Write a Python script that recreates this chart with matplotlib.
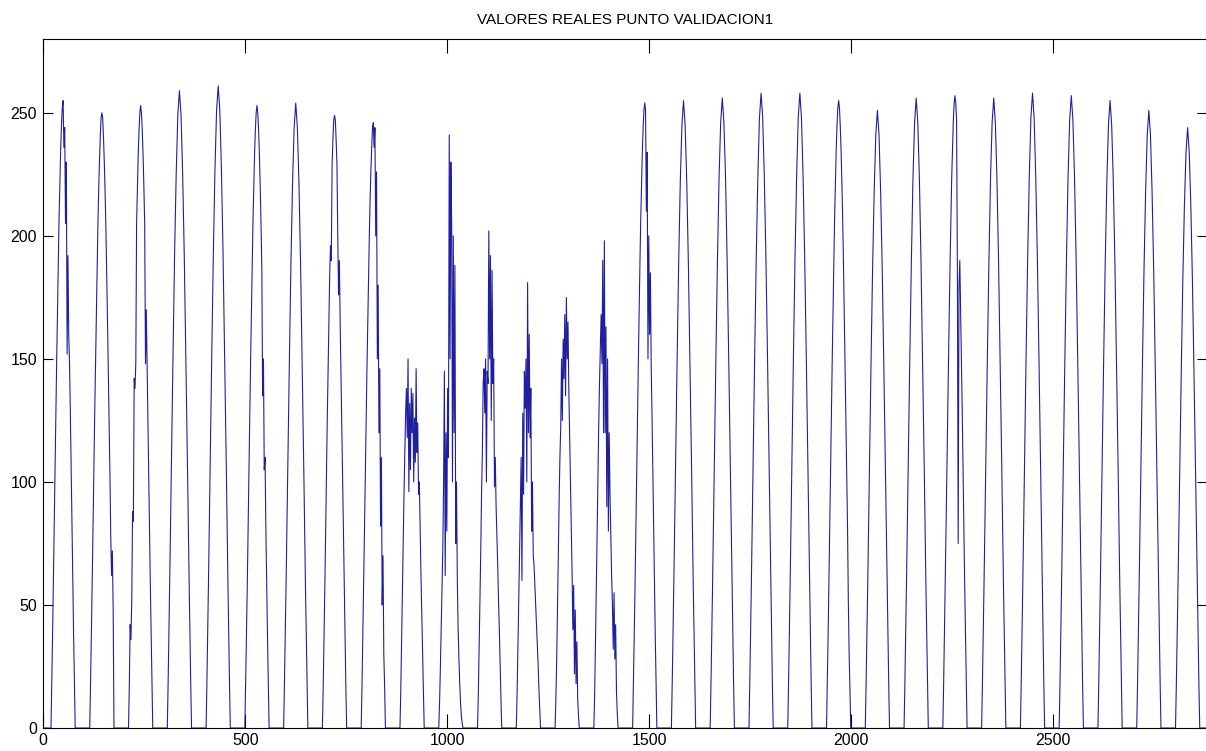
import matplotlib
matplotlib.use("Agg")
import matplotlib.pyplot as plt
from matplotlib import font_manager

# muestras cada 15 min, 96 por dia, 30 dias; mediodia ~ muestra 49 del dia
muestras_dia = 96
mediodia = 49
n_dias = 30

# desplazamientos (en muestras) respecto al mediodia
t_hora = [-30, -28, -24, -20, -16, -12, -8, -4, 0, 4, 8, 12, 16, 20, 24, 28, 30]
t_media = [-30, -28, -26, -24, -22, -20, -18, -16, -14, -12, -10, -8, -6, -4, -2, 0,
           2, 4, 6, 8, 10, 12, 14, 16, 18, 20, 22, 24, 26, 28, 30]

# dias despejados (valores horarios)
dias = {
    3:  [0, 18, 60, 106, 150, 192, 225, 249, 259, 249, 225, 192, 150, 106, 60, 18, 0],
    4:  [0, 18, 60, 107, 151, 193, 227, 251, 261, 251, 227, 193, 151, 107, 60, 18, 0],
    6:  [0, 18, 58, 104, 147, 188, 221, 244, 254, 244, 221, 188, 147, 104, 58, 18, 0],
    16: [0, 18, 59, 105, 148, 189, 222, 245, 255, 245, 222, 189, 148, 105, 59, 18, 0],
    17: [0, 18, 59, 105, 149, 190, 224, 246, 256, 246, 224, 190, 149, 105, 59, 18, 0],
    18: [0, 18, 59, 106, 150, 191, 224, 248, 258, 248, 224, 191, 150, 106, 59, 18, 0],
    19: [0, 18, 59, 106, 150, 191, 224, 248, 258, 248, 224, 191, 150, 106, 59, 18, 0],
    21: [0, 18, 58, 103, 146, 186, 218, 241, 251, 241, 218, 186, 146, 103, 58, 18, 0],
    22: [0, 18, 59, 105, 148, 189, 223, 246, 256, 246, 223, 189, 148, 105, 59, 18, 0],
    24: [0, 18, 59, 105, 148, 189, 223, 246, 256, 246, 223, 189, 148, 105, 59, 18, 0],
    25: [0, 18, 59, 106, 150, 191, 224, 248, 258, 248, 224, 191, 150, 106, 59, 18, 0],
    26: [0, 18, 59, 105, 149, 190, 224, 247, 257, 247, 224, 190, 149, 105, 59, 18, 0],
    27: [0, 18, 59, 105, 148, 189, 222, 245, 255, 245, 222, 189, 148, 105, 59, 18, 0],
    28: [0, 18, 58, 103, 146, 186, 218, 241, 251, 241, 218, 186, 146, 103, 58, 18, 0],
    29: [0, 17, 56, 100, 142, 181, 212, 234, 244, 234, 212, 181, 142, 100, 56, 17, 0],
}

# dias con nubes (valores cada media hora)
dias.update({
    0:  [0, 18, 38, 59, 82, 105, 128, 148, 168, 189, 207, 222, 235, 245, 252, 255,
         236, 244, 205, 230, 152, 192, 160, 148, 128, 105, 82, 59, 38, 18, 0],
    1:  [0, 18, 38, 58, 80, 103, 125, 145, 165, 185, 203, 218, 230, 240, 248, 250,
         248, 240, 230, 218, 203, 185, 165, 145, 125, 103, 78, 62, 72, 48, 0],
    2:  [0, 18, 42, 36, 52, 88, 84, 142, 138, 148, 205, 220, 233, 243, 250, 253,
         250, 243, 233, 220, 205, 148, 170, 147, 127, 104, 81, 58, 38, 18, 0],
    5:  [0, 18, 38, 58, 81, 104, 127, 147, 167, 187, 205, 220, 233, 243, 250, 253,
         250, 243, 233, 220, 205, 187, 135, 150, 105, 110, 81, 58, 38, 18, 0],
    7:  [0, 17, 37, 57, 80, 102, 125, 144, 164, 184, 196, 190, 229, 239, 247, 249,
         247, 239, 229, 200, 176, 190, 164, 144, 125, 102, 80, 57, 37, 17, 0],
    8:  [0, 17, 37, 57, 79, 101, 123, 143, 162, 182, 199, 214, 226, 236, 244, 246,
         236, 244, 200, 226, 150, 180, 120, 146, 82, 110, 50, 70, 30, 17, 0],
    9:  [0, 15, 34, 55, 75, 95, 112, 128, 138, 118, 150, 96, 132, 105, 138, 120,
         136, 100, 126, 108, 146, 112, 124, 95, 100, 80, 62, 46, 30, 14, 0],
    10: [0, 10, 24, 40, 58, 72, 100, 145, 62, 120, 80, 138, 110, 241, 150, 230,
         205, 100, 200, 120, 188, 75, 100, 60, 40, 28, 18, 10, 5, 2, 0],
    11: [0, 14, 32, 52, 72, 95, 112, 140, 146, 128, 150, 100, 145, 140, 202, 150,
         192, 125, 186, 140, 150, 98, 110, 90, 78, 66, 52, 40, 26, 12, 0],
    12: [0, 14, 32, 50, 70, 90, 110, 60, 128, 95, 145, 130, 150, 100, 181, 120,
         160, 118, 138, 80, 100, 70, 66, 58, 50, 42, 34, 26, 16, 8, 0],
    13: [0, 12, 28, 48, 70, 92, 110, 122, 150, 125, 158, 142, 168, 135, 175, 150,
         165, 138, 120, 100, 82, 64, 40, 58, 22, 48, 18, 35, 12, 5, 0],
    14: [0, 14, 34, 56, 78, 100, 122, 140, 155, 168, 148, 190, 120, 198, 120, 163,
         90, 150, 80, 120, 95, 78, 62, 50, 32, 55, 28, 42, 15, 6, 0],
    15: [0, 18, 38, 58, 81, 104, 127, 147, 168, 188, 206, 221, 234, 244, 251, 254,
         251, 210, 234, 150, 200, 160, 185, 147, 127, 104, 81, 58, 38, 18, 0],
    20: [0, 18, 38, 59, 82, 105, 128, 148, 168, 189, 207, 222, 235, 245, 252, 255,
         252, 245, 235, 222, 207, 189, 168, 148, 128, 105, 82, 52, 30, 16, 0],
    23: [0, 18, 39, 59, 82, 105, 129, 149, 170, 190, 208, 224, 236, 247, 254, 257,
         254, 247, 186, 75, 180, 190, 170, 149, 129, 105, 82, 59, 39, 18, 0],
})

x = [0]
y = [0]
for d in range(n_dias):
    vals = dias[d]
    offs = t_hora if len(vals) == len(t_hora) else t_media
    for t, v in zip(offs, vals):
        x.append(d * muestras_dia + mediodia + t)
        y.append(v)
x.append(n_dias * muestras_dia - 1)
y.append(0)

instaladas = {f.name for f in font_manager.fontManager.ttflist}
if 'Liberation Sans Narrow' in instaladas:
    fuente_ticks = {'family': 'Liberation Sans Narrow', 'size': 13}
else:
    fuente_ticks = {'family': 'Liberation Sans', 'size': 11.5}

fig = plt.figure(figsize=(12.06, 7.51), dpi=100)
ax = fig.add_axes([0.0359, 0.0306, 0.9646, 0.9174])
ax.plot(x, y, color='#1f1fa0', linewidth=0.8)

ax.set_xlim(0, 2880)
ax.set_ylim(0, 280)
ax.set_xticks([0, 500, 1000, 1500, 2000, 2500])
ax.set_yticks([0, 50, 100, 150, 200, 250])
ax.tick_params(axis='x', direction='in', length=10, width=0.8, top=True, pad=3.5)
ax.tick_params(axis='y', direction='in', length=7.2, width=0.8, right=True, pad=4.5)
for lab in ax.get_xticklabels() + ax.get_yticklabels():
    lab.set_fontfamily(fuente_ticks['family'])
    lab.set_fontsize(fuente_ticks['size'])
for s in ax.spines.values():
    s.set_linewidth(0.8)

ax.set_title('VALORES REALES PUNTO VALIDACION1', fontsize=11,
             family=['Liberation Sans', 'DejaVu Sans'], pad=10.5)

fig.savefig('out.png', dpi=100)
